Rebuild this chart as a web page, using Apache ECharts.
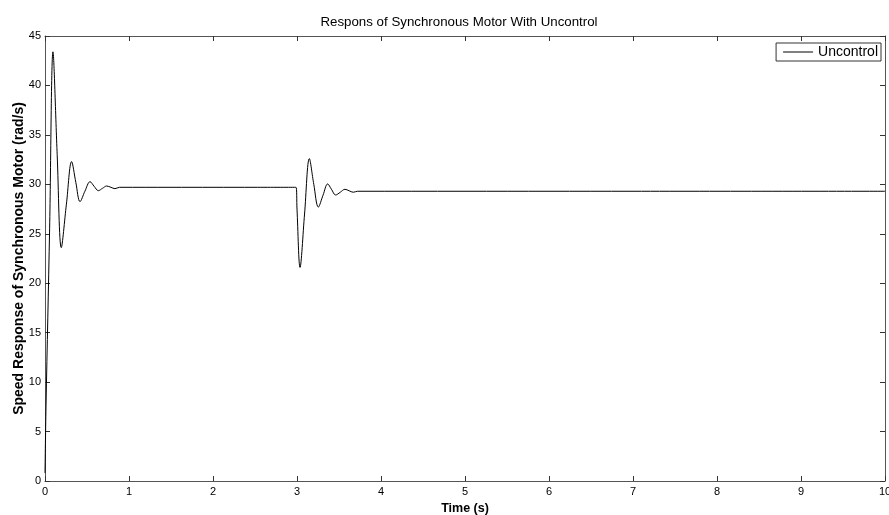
<!DOCTYPE html>
<html>
<head>
<meta charset="utf-8">
<title>Respons of Synchronous Motor With Uncontrol</title>
<script src="https://cdn.jsdelivr.net/npm/echarts@6/dist/echarts.min.js"></script>
<style>
    html, body { margin: 0; padding: 0; background: #fff; }
    #chart { width: 889px; height: 515px; }
</style>
</head>
<body>
<div id="chart"></div>
<script>
// 时间 (s) 与转速 (rad/s)
const timeData = [
    0, 0.012, 0.055, 0.095, 0.145, 0.194, 0.255, 0.317, 0.367, 0.417, 0.475, 0.536,
    0.585, 0.635, 0.685, 0.734, 0.785, 0.833, 0.885, 1.5, 2.0, 2.5, 2.988,
    3.0, 3.036, 3.09, 3.147, 3.2, 3.254, 3.31, 3.365, 3.41, 3.46, 3.515, 3.571,
    3.62, 3.67, 3.72, 5, 7, 10
];
const speedData = [
    0.8, 7.5, 25.5, 43.4, 33.0, 23.6, 28.0, 32.3, 30.2, 28.25, 29.3, 30.27,
    29.8, 29.36, 29.6, 29.83, 29.7, 29.56, 29.7, 29.7, 29.7, 29.7, 29.7,
    27.5, 21.6, 27.0, 32.6, 30.0, 27.7, 28.9, 30.04, 29.5, 28.92, 29.2, 29.5,
    29.35, 29.2, 29.3, 29.3, 29.3, 29.3
];
const xTicks = [0, 10, 1];   // min, max, interval
const yTicks = [0, 45, 5];
const legendName = 'Uncontrol';

const chart = echarts.init(document.getElementById('chart'));
const font = 'Arial, "Liberation Sans", sans-serif';
const axisColor = '#555';

function boxAxis(range, extra) {
    return Object.assign({
        type: 'value',
        min: range[0],
        max: range[1],
        interval: range[2],
        splitLine: { show: false },
        axisLine: { show: true, onZero: false, lineStyle: { color: axisColor, width: 1 } },
        axisTick: { show: true, inside: true, length: 5, lineStyle: { color: '#333' } },
        axisLabel: { show: false }
    }, extra);
}

const points = timeData.map(function (t, i) { return [t, speedData[i]]; });

chart.setOption({
    animation: false,
    backgroundColor: '#fff',
    title: {
        text: 'Respons of Synchronous Motor With Uncontrol',
        left: 454,
        top: 11,
        textAlign: 'center',
        textStyle: { fontFamily: font, fontSize: 13.3, fontWeight: 'normal', color: '#000' }
    },
    grid: { left: 45, right: 4, top: 36, bottom: 34, outerBoundsMode: 'none', containLabel: false },
    legend: {
        right: 8,
        top: 43,
        padding: [2, 3, 2, 7],
        borderColor: '#333',
        borderWidth: 1,
        backgroundColor: '#fff',
        itemWidth: 30,
        itemHeight: 2,
        itemGap: 4,
        icon: 'path://M0,0 L30,0 L30,1 L0,1 Z',
        textStyle: { fontFamily: font, fontSize: 14, color: '#000' },
        data: [legendName]
    },
    xAxis: [
        boxAxis(xTicks, {
            position: 'bottom',
            name: 'Time (s)',
            nameLocation: 'middle',
            nameGap: 21,
            nameTextStyle: { fontFamily: font, fontSize: 12.5, fontWeight: 'bold', color: '#000' },
            axisLabel: { show: true, margin: 5, fontFamily: font, fontSize: 11, color: '#000' }
        }),
        boxAxis(xTicks, { position: 'top' })
    ],
    yAxis: [
        boxAxis(yTicks, {
            position: 'left',
            name: 'Speed Response of Synchronous Motor (rad/s)',
            nameLocation: 'middle',
            nameGap: 19,
            nameMoveOverlap: false,
            nameTextStyle: { fontFamily: font, fontSize: 14, fontWeight: 'bold', color: '#000' },
            axisLabel: { show: true, margin: 4, fontFamily: font, fontSize: 11, color: '#000' }
        }),
        boxAxis(yTicks, { position: 'right' })
    ],
    series: [{
        name: legendName,
        type: 'line',
        xAxisIndex: 0,
        yAxisIndex: 0,
        data: points,
        smooth: 0.35,
        showSymbol: false,
        symbol: 'none',
        lineStyle: { color: '#000', width: 1 },
        itemStyle: { color: '#000' }
    }]
});
</script>
</body>
</html>
